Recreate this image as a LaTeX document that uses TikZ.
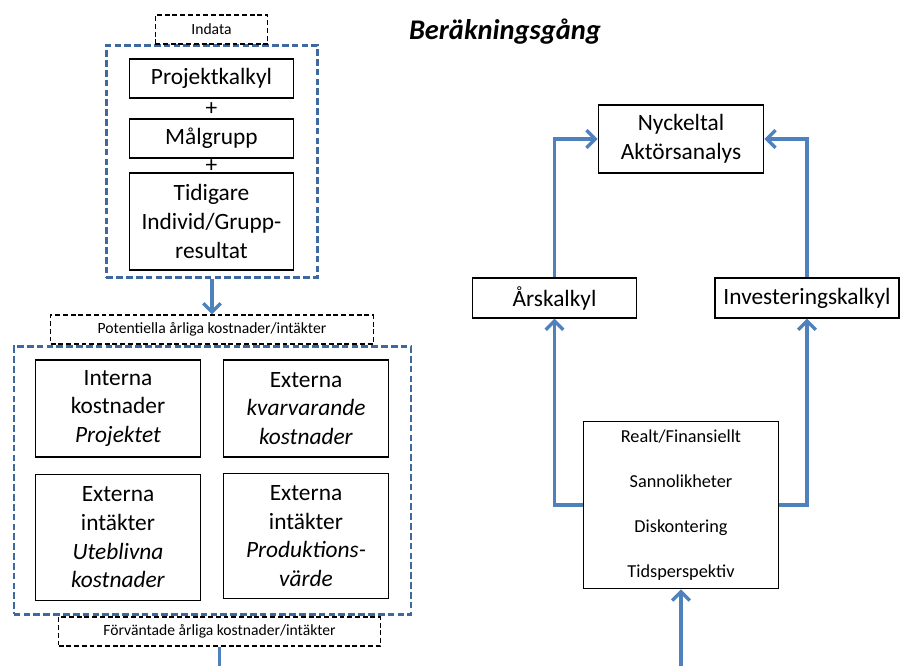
\documentclass[tikz,border=0pt]{standalone}
\usepackage{fontspec}
\setmainfont{Carlito}
\usetikzlibrary{arrows.meta}

\definecolor{flowblue}{RGB}{79,129,189}
\definecolor{dashblue}{RGB}{62,105,160}

\begin{document}
\begin{tikzpicture}
            [x=0.02cm,y=-0.02cm,
             every node/.style={inner sep=0pt,align=center},
             wh/.style 2 args={minimum width=#1*0.5669pt,minimum height=#2*0.5669pt},
             box/.style={draw,line width=0.85pt,font=\fontsize{13.3}{16.3}\selectfont},
             tag/.style={draw,line width=0.7pt,dash pattern=on 2.8pt off 1.6pt,font=\fontsize{8.9}{10}\selectfont},
             group/.style={draw=dashblue,line width=1.3pt,dash pattern=on 3.8pt off 1.8pt},
             flow/.style={draw=flowblue,line width=1.9pt,-{Straight Barb[length=5pt,width=10pt]}}]
            \useasboundingbox (0,0) rectangle (900,666);
            %
            \node[group,wh={212}{233}] (inbox) at (212,161.5) {};
            \node[tag,wh={113}{29}] (indata) at (211.5,29.5) {Indata};
            \node[box,wh={165}{39}] (projekt) at (211.5,78.5) {Projektkalkyl};
            \node[font=\fontsize{13.3}{16}\selectfont] (plus1) at (211.5,109) {+};
            \node[box,wh={165}{39}] (malgrupp) at (211.5,138.5) {Målgrupp};
            \node[font=\fontsize{13.3}{16}\selectfont] (plus2) at (211.5,166) {+};
            \node[box,wh={165}{97}] (tidigare) at (211.5,221.5) {Tidigare\\Individ/Grupp-\\resultat};
            %
            \node[tag,wh={324}{29}] (potentiella) at (212,329.5) {Potentiella årliga kostnader/intäkter};
            \node[group,wh={399}{269}] (kostbox) at (212.5,480.5) {};
            \node[box,wh={166}{97}] (interna) at (118,408.5) {Interna\\kostnader\\\textit{Projektet}};
            \node[box,wh={166}{97}] (kvarvarande) at (306,408.5) {Externa\\\textit{kvarvarande}\\\textit{kostnader}};
            \node[box,wh={166}{127}] (uteblivna) at (118,537.5) {Externa\\intäkter\\\textit{Uteblivna}\\\textit{kostnader}};
            \node[box,wh={166}{126}] (produktion) at (306,536) {Externa\\intäkter\\\textit{Produktions-}\\\textit{värde}};
            \node[tag,wh={323}{29}] (forvantade) at (219.5,631.5) {Förväntade årliga kostnader/intäkter};
            \coordinate (botL) at (219.5,666);
            %
            \node[font=\fontsize{16.2}{19}\selectfont\bfseries\itshape] (titel) at (505,32) {Beräkningsgång};
            \node[box,wh={166}{68}] (nyckeltal) at (681,139) {Nyckeltal\\Aktörsanalys};
            \node[box,wh={165}{40}] (arskalkyl) at (554.5,298) {Årskalkyl};
            \node[box,wh={185}{40}] (invest) at (807,298) {Investeringskalkyl};
            \node[box,wh={196}{168},font=\fontsize{10.4}{25.5}\selectfont] (params) at (681,505)
                {Realt/Finansiellt\\Sannolikheter\\Diskontering\\Tidsperspektiv};
            \coordinate (botR) at (681,666);
            %
            \draw[flow] (inbox) -- (potentiella);
            \draw[flow,-] (forvantade) -- (botL);
            \draw[flow] (arskalkyl) |- (nyckeltal);
            \draw[flow] (invest) |- (nyckeltal);
            \draw[flow] (params) -| (arskalkyl);
            \draw[flow] (params) -| (invest);
            \draw[flow] (botR) -- (params);
        \end{tikzpicture}
\end{document}
